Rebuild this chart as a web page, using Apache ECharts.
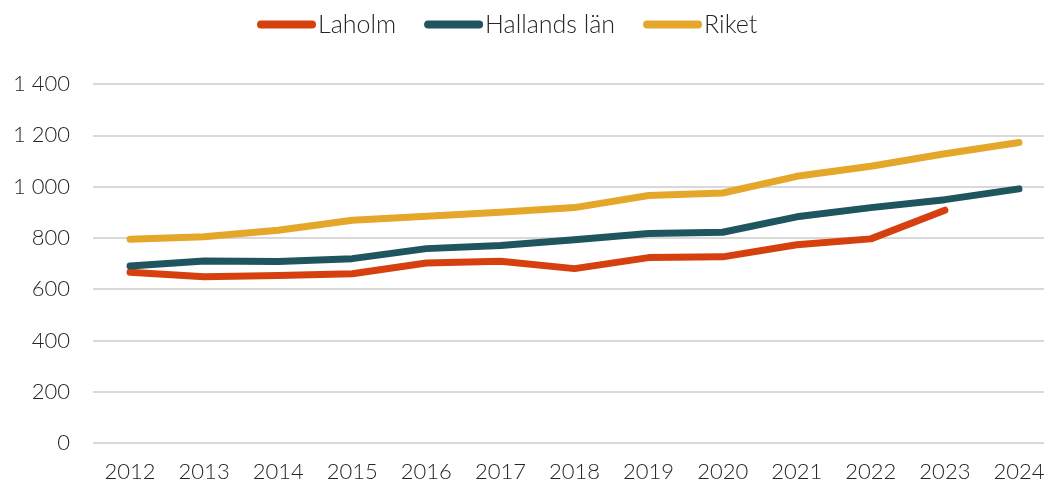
<!DOCTYPE html>
<html>
<head>
<meta charset="utf-8">
<script src="https://cdn.jsdelivr.net/npm/echarts@6/dist/echarts.min.js"></script>
<style>
  html, body { margin: 0; padding: 0; background: #fff; }
  #main { width: 1044px; height: 484px; }
</style>
</head>
<body>
<div id="main"></div>
<script>
// år på x-axeln
var years = ['2012', '2013', '2014', '2015', '2016', '2017', '2018', '2019', '2020', '2021', '2022', '2023', '2024'];
var laholm = [666, 648, 653, 660, 702, 709, 680, 723, 726, 773, 796, 908, null];
var halland = [690, 710, 708, 719, 758, 770, 793, 817, 822, 882, 918, 949, 991];
var riket = [795, 804, 830, 869, 884, 900, 918, 965, 975, 1040, 1079, 1128, 1172];

var legendIcon = 'path://M4,0 H55 A4,4 0 0 1 55,8 H4 A4,4 0 0 1 4,0 Z';
var font = 'Lato, "Open Sans", sans-serif';

function serie(name, data, color) {
    return {
        name: name,
        type: 'line',
        data: data,
        showSymbol: false,
        symbol: 'none',
        lineStyle: { width: 7, color: color, cap: 'round', join: 'round' },
        itemStyle: { color: color },
        emphasis: { disabled: true }
    };
}

var chart = echarts.init(document.getElementById('main'));
chart.setOption({
    animation: false,
    legend: {
        top: 7,
        left: 252,
        icon: legendIcon,
        itemWidth: 59,
        itemHeight: 8,
        itemGap: 28,
        textStyle: { fontFamily: font, fontSize: 25, fontWeight: 300, color: '#262626', padding: [0, 0, 0, -3] }
    },
    grid: {
        left: 93,
        top: 84,
        right: -12,
        height: 359,
        containLabel: false,
        outerBoundsMode: 'none'
    },
    xAxis: {
        type: 'category',
        data: years,
        boundaryGap: true,
        axisLine: { show: false },
        axisTick: { show: false },
        axisLabel: { fontFamily: font, fontSize: 22, fontWeight: 300, color: '#262626', margin: 18 }
    },
    yAxis: {
        type: 'value',
        min: 0,
        max: 1400,
        interval: 200,
        axisLabel: {
            fontFamily: font,
            fontSize: 22,
            fontWeight: 300,
            color: '#262626',
            margin: 23,
            formatter: function (v) {
                return String(v).replace(/\B(?=(\d{3})+(?!\d))/g, ' ');
            }
        },
        splitLine: { lineStyle: { color: '#d9d9d9', width: 2 } }
    },
    series: [
        serie('Laholm', laholm, '#d6400f'),
        serie('Hallands län', halland, '#1e555e'),
        serie('Riket', riket, '#e5a72a')
    ]
});
</script>
</body>
</html>
